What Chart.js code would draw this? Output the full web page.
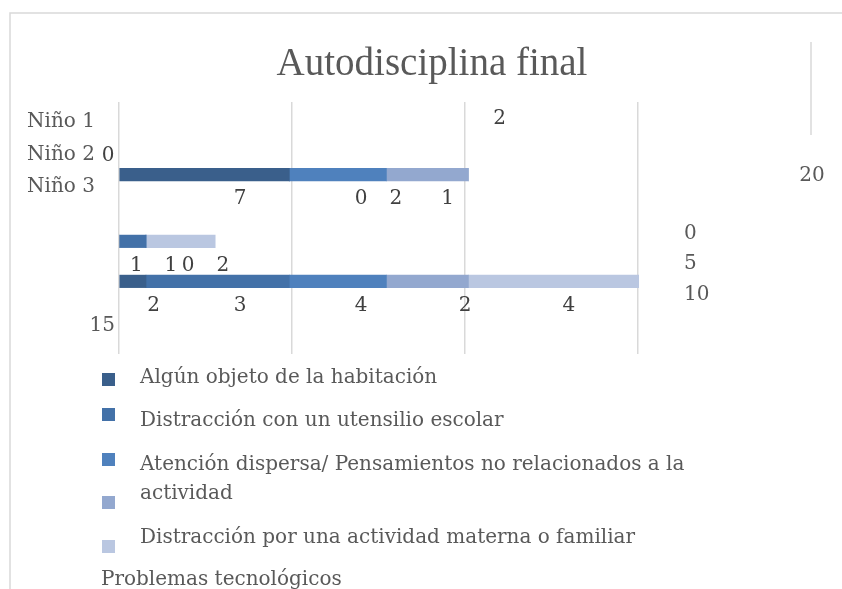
<!DOCTYPE html>
<html>
<head>
<meta charset="utf-8">
<title>Autodisciplina final</title>
<script src="https://cdn.jsdelivr.net/npm/chart.js"></script>
<style>
  html, body { margin: 0; padding: 0; background: #fff; }
  #contenedor { position: relative; width: 842px; height: 589px; }
</style>
</head>
<body>
<div id="contenedor"><canvas id="grafico" width="842" height="589"></canvas></div>
<script>
var categorias = ['Niño 1', 'Niño 2', 'Niño 3'];
var nombresSeries = [
  'Algún objeto de la habitación',
  'Distracción con un utensilio escolar',
  'Atención dispersa/ Pensamientos no relacionados a la actividad',
  'Distracción por una actividad materna o familiar',
  'Problemas tecnológicos'
];

// largo de cada tramo tal como se ve dibujado (Niño 1, Niño 2, Niño 3)
var algunObjeto = [0.78, 0, 4.92];
var utensilio = [4.14, 0.78, 0];
var atencion = [2.81, 0, 2.81];
var actividadMaterna = [2.37, 0, 2.37];
var tecnologicos = [4.92, 2.0, 0];

// etiquetas de datos que aparecen en la figura
var rotAlgun = [2, 1, 7];
var rotUtensilio = [3, 1, 0];
var rotAtencion = [4, 0, 2];
var rotActividad = [2, 2, 1];
var rotTecno = [4, 0, 2];

var ticksX = [0, 5, 10, 15, 20];

var colores = ['#3a5f8b', '#4371a8', '#4f81bd', '#93a8cf', '#bac7e1'];

// posicion de cada barra en el eje vertical (17 franjas, de arriba hacia abajo)
var filaBarra = [12.5, 9.5, 4.5];

var valores = [algunObjeto, utensilio, atencion, actividadMaterna, tecnologicos];
var rotulos = [rotAlgun, rotUtensilio, rotAtencion, rotActividad, rotTecno];

var fuente = '"DejaVu Serif", serif';

// la figura original tiene textos desplazados; se conservan donde aparecen
var rotuloMovido = { '2-4': { y: 124 }, '1-4': { x: 108, y: 161 } };
var posTicks = [
  { x: 684, y: 239, a: 'left' },
  { x: 684, y: 269, a: 'left' },
  { x: 684, y: 300, a: 'left' },
  { x: 115, y: 331, a: 'right' },
  { x: 812, y: 181, a: 'center' }
];
var baseNinos = [127, 160, 192];
var cuadroLeyenda = [373, 408, 453, 496, 540];
var lineaLeyenda = [383, 426, 470, 499, 543, 585];

function partirTexto(ctx, texto, ancho) {
  var palabras = texto.split(' ');
  var lineas = [];
  var actual = '';
  palabras.forEach(function (p) {
    var prueba = actual ? actual + ' ' + p : p;
    if (ctx.measureText(prueba).width > ancho && actual) {
      lineas.push(actual);
      actual = p;
    } else {
      actual = prueba;
    }
  });
  lineas.push(actual);
  return lineas;
}

var dibujoLibre = {
  id: 'dibujoLibre',
  beforeDraw: function (chart) {
    var ctx = chart.ctx;
    ctx.save();
    ctx.strokeStyle = '#d9d9d9';
    ctx.lineWidth = 1.5;
    ctx.beginPath();
    ctx.moveTo(10, 589);
    ctx.lineTo(10, 13);
    ctx.lineTo(842, 13);
    ctx.stroke();
    ctx.restore();
  },
  afterDraw: function (chart) {
    var ctx = chart.ctx;
    var x = chart.scales.x;
    var y = chart.scales.y;
    ctx.save();

    // linea suelta del valor 20
    ctx.strokeStyle = '#d9d9d9';
    ctx.lineWidth = 1.5;
    ctx.beginPath();
    ctx.moveTo(x.getPixelForValue(20), 42);
    ctx.lineTo(x.getPixelForValue(20), 135);
    ctx.stroke();

    // titulo
    ctx.fillStyle = '#595959';
    ctx.font = '39px "Liberation Serif", serif';
    ctx.textAlign = 'center';
    ctx.textBaseline = 'alphabetic';
    ctx.fillText('Autodisciplina final', 432, 75);

    // nombres de los ninos
    ctx.font = '20px ' + fuente;
    ctx.textAlign = 'left';
    categorias.forEach(function (c, i) {
      ctx.fillText(c, 27, baseNinos[i]);
    });

    // ticks del eje x
    ticksX.forEach(function (t, i) {
      ctx.textAlign = posTicks[i].a;
      ctx.fillText(String(t), posTicks[i].x, posTicks[i].y);
    });

    // etiquetas de datos
    ctx.fillStyle = '#404040';
    ctx.textAlign = 'center';
    for (var n = 0; n < categorias.length; n++) {
      var acum = 0;
      for (var s = 0; s < rotulos.length; s++) {
        var v = rotulos[s][n];
        var px = x.getPixelForValue(acum + v / 2);
        var py = y.getPixelForValue(filaBarra[n]) + 29.5;
        acum += v;
        var mov = rotuloMovido[n + '-' + s];
        if (mov) {
          if (mov.x !== undefined) px = mov.x;
          py = mov.y;
        }
        ctx.fillText(String(v), px, py);
      }
    }

    // leyenda
    colores.forEach(function (c, i) {
      ctx.fillStyle = c;
      ctx.fillRect(102, cuadroLeyenda[i], 13, 13);
    });
    ctx.fillStyle = '#595959';
    ctx.textAlign = 'left';
    var lineas = [];
    nombresSeries.forEach(function (nom, i) {
      partirTexto(ctx, nom, 560).forEach(function (l) {
        lineas.push({ t: l, x: i === nombresSeries.length - 1 ? 101 : 140 });
      });
    });
    lineas.forEach(function (l, i) {
      ctx.fillText(l.t, l.x, lineaLeyenda[i]);
    });

    ctx.restore();
  }
};

var datasets = valores.map(function (serie, s) {
  return {
    label: nombresSeries[s],
    data: serie.map(function (v, i) { return { x: v, y: filaBarra[i] }; }),
    backgroundColor: colores[s],
    barThickness: 12.5
  };
});

new Chart(document.getElementById('grafico').getContext('2d'), {
  type: 'bar',
  data: { datasets: datasets },
  options: {
    indexAxis: 'y',
    responsive: false,
    animation: false,
    layout: { padding: { left: 119, right: 31, top: 102, bottom: 235 } },
    plugins: {
      legend: { display: false },
      title: { display: false },
      tooltip: { enabled: false }
    },
    scales: {
      x: {
        type: 'linear',
        min: 0,
        max: 20,
        stacked: true,
        ticks: { display: false, stepSize: 5 },
        border: { display: false },
        grid: {
          drawTicks: false,
          lineWidth: 1.5,
          color: function (c) {
            return c.tick && c.tick.value === 20 ? 'rgba(0,0,0,0)' : '#d9d9d9';
          }
        }
      },
      y: {
        type: 'linear',
        min: 0,
        max: 17,
        reverse: true,
        stacked: true,
        display: false
      }
    }
  },
  plugins: [dibujoLibre]
});
</script>
</body>
</html>
